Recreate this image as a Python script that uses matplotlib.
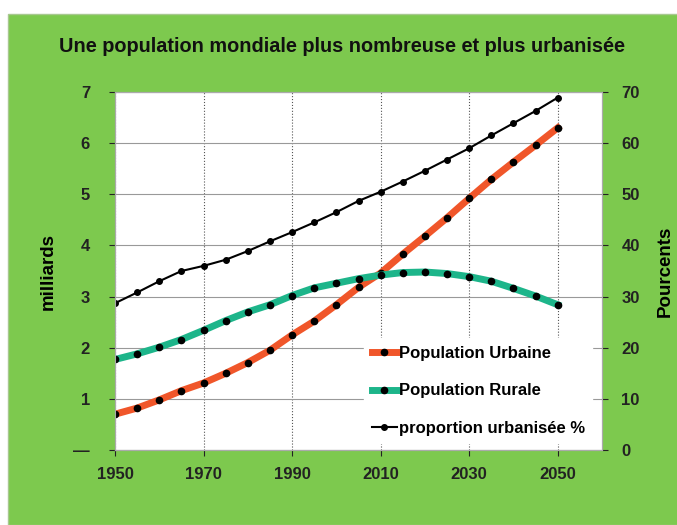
import matplotlib.pyplot as plt
from matplotlib.patches import Rectangle
from matplotlib.ticker import FuncFormatter

plt.rcParams['font.family'] = ['Liberation Sans', 'DejaVu Sans']
plt.rcParams['font.weight'] = 'bold'

annees = list(range(1950, 2051, 5))
urbaine = [0.70, 0.82, 0.98, 1.16, 1.31, 1.50, 1.71, 1.95, 2.25, 2.52, 2.84,
           3.18, 3.46, 3.83, 4.18, 4.54, 4.92, 5.29, 5.63, 5.96, 6.30]
rurale = [1.77, 1.88, 2.01, 2.16, 2.34, 2.53, 2.70, 2.84, 3.02, 3.17, 3.26,
          3.35, 3.42, 3.47, 3.48, 3.45, 3.39, 3.30, 3.16, 3.01, 2.84]
proportion = [28.7, 30.8, 33.0, 35.0, 36.0, 37.2, 38.9, 40.8, 42.6, 44.5, 46.5,
              48.7, 50.5, 52.5, 54.6, 56.8, 59.0, 61.5, 63.9, 66.3, 68.9]
xticks = [1950, 1970, 1990, 2010, 2030, 2050]

VERT = '#7dc94e'
ROUGE = '#f0562a'
TURQ = '#1db58a'

fig = plt.figure(figsize=(6.77, 5.25), dpi=100)
fig.patch.set_facecolor('white')
fig.add_artist(Rectangle((8 / 677, 0), 1, (525 - 14) / 525, transform=fig.transFigure,
                         facecolor=VERT, edgecolor='#a8c890', lw=1, zorder=-10))

ax = fig.add_axes([115 / 677, 75 / 525, 487 / 677, 358 / 525])
ax.set_facecolor('white')
ax2 = ax.twinx()

l1, = ax.plot(annees, urbaine, color=ROUGE, lw=5, marker='o', ms=4.5,
              mfc='black', mec='black', label='Population Urbaine', zorder=3)
l2, = ax.plot(annees, rurale, color=TURQ, lw=5, marker='o', ms=4.5,
              mfc='black', mec='black', label='Population Rurale', zorder=3)
l3, = ax2.plot(annees, proportion, color='black', lw=1.5, marker='o', ms=4,
               label='proportion urbanisée %')

ax.set_xlim(1950, 2060)
ax.set_ylim(0, 7)
ax2.set_ylim(0, 70)
ax.set_xticks(xticks)
ax.set_yticks(range(0, 8))
ax2.set_yticks(range(0, 71, 10))
ax.yaxis.set_major_formatter(FuncFormatter(lambda v, p: '—' if v == 0 else f'{int(v)}'))

ax.grid(axis='y', color='#999999', lw=0.8)
ax.grid(axis='x', color='#555555', lw=0.8, ls=':')
ax.set_axisbelow(True)

for a in (ax, ax2):
    a.tick_params(labelsize=12, colors='#222222', length=4, width=0.8)
    for s in a.spines.values():
        s.set_color('#aaaaaa')
ax.tick_params(axis='x', pad=8)
ax.tick_params(axis='y', pad=14)
ax2.tick_params(axis='y', pad=10)

ax.set_ylabel('milliards', fontsize=13.5, fontweight='bold', labelpad=12)
ax2.set_ylabel('Pourcents', fontsize=13.5, fontweight='bold', labelpad=12)

fig.text(342 / 677, (525 - 47) / 525, 'Une population mondiale plus nombreuse et plus urbanisée',
         ha='center', va='center', fontsize=14.3, fontweight='bold', color='#111111')

leg = ax2.legend(handles=[l1, l2, l3], loc='lower right', bbox_to_anchor=(0.997, -0.005),
                 frameon=True, framealpha=1, edgecolor='white', fontsize=12,
                 handlelength=1.5, handletextpad=0.1, labelspacing=1.35,
                 borderpad=0.45)
for t in leg.get_texts():
    t.set_fontweight('bold')

fig.savefig('out.png', dpi=100, facecolor=fig.get_facecolor())
